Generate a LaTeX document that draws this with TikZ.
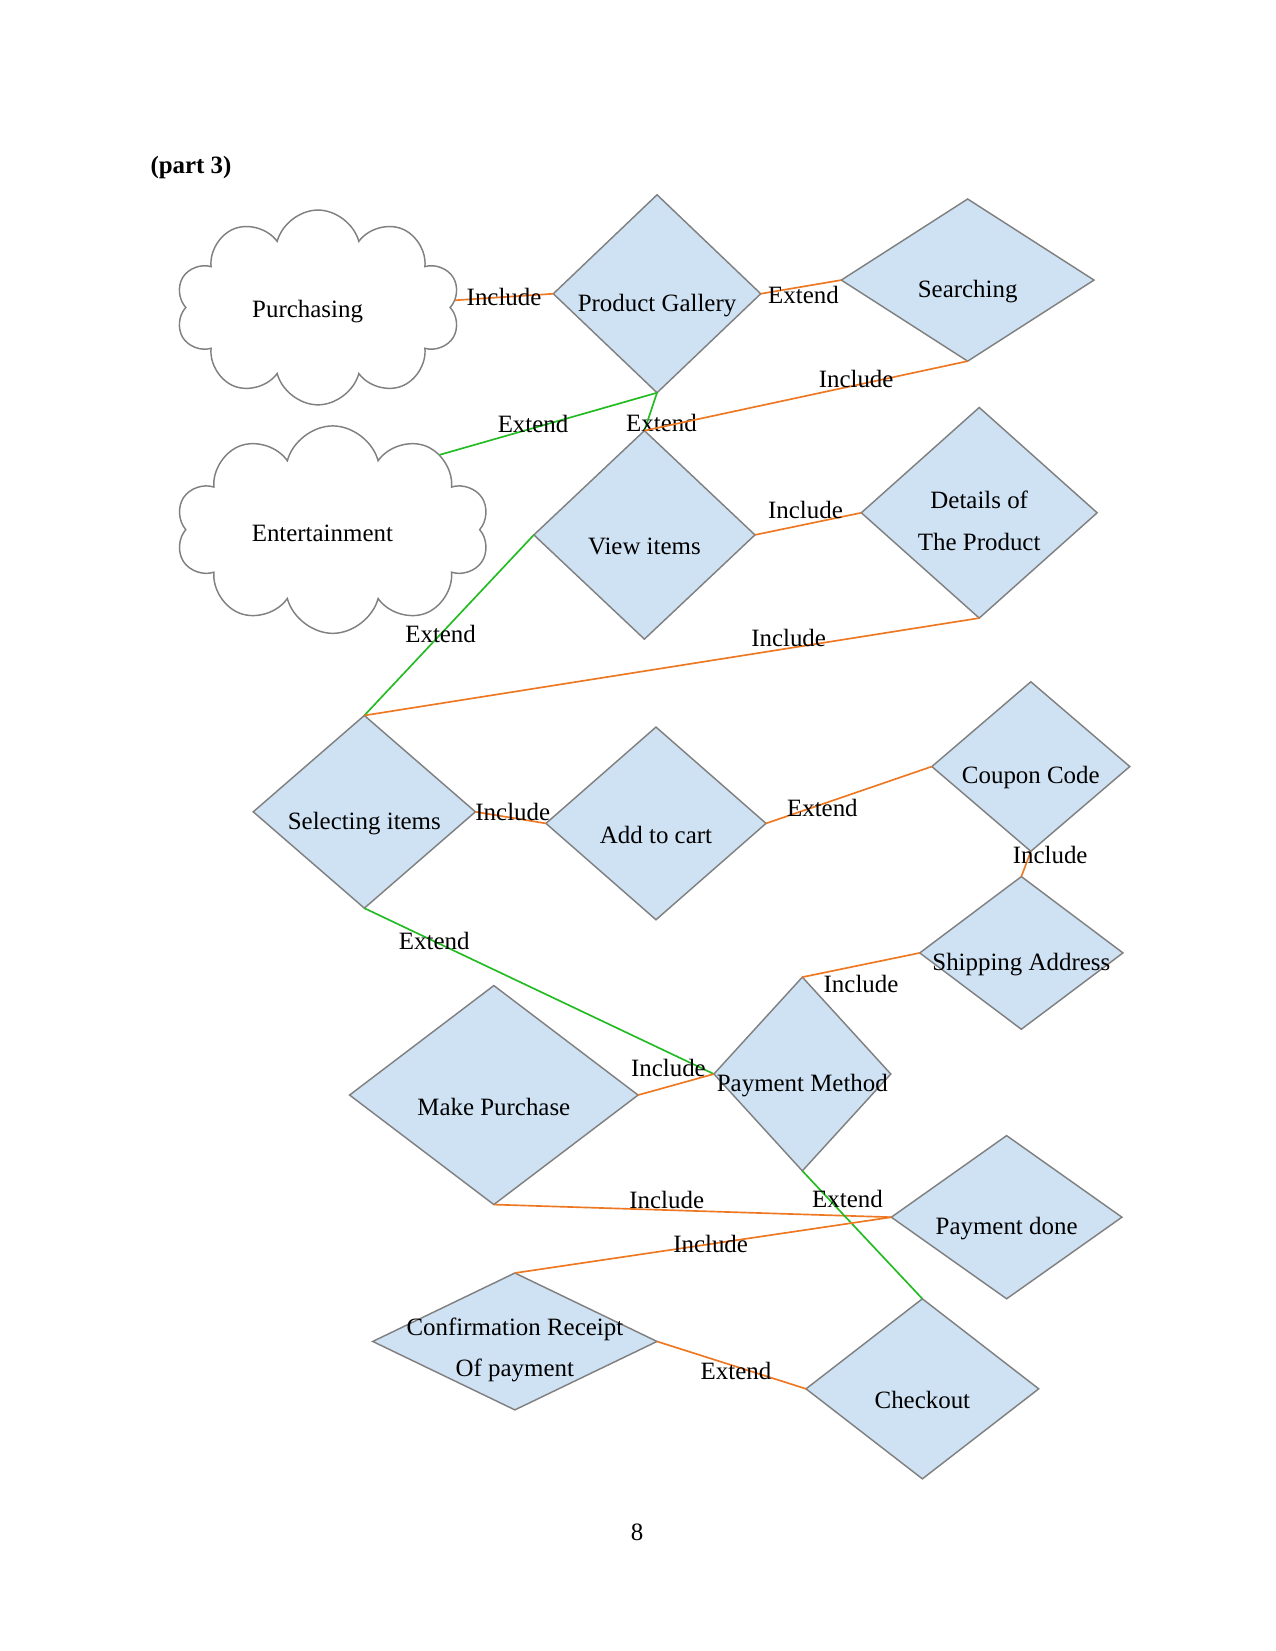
\documentclass[tikz,border=0pt]{standalone}
\usepackage{fontspec}
\setmainfont{Liberation Serif}
\usepackage{xcolor}
\usetikzlibrary{shapes.geometric, shapes.symbols}
\definecolor{ucfill}{HTML}{CFE2F3}
\definecolor{ucline}{HTML}{808080}
\definecolor{inccol}{HTML}{EE7722}
\definecolor{extcol}{HTML}{22BB22}
\newcommand{\px}{0.017828cm}

\begin{document}
\begin{tikzpicture}[x=\px, y=-\px,
  every node/.style={font=\fontsize{12}{14}\selectfont},
  uc/.style 2 args={diamond, draw=ucline, fill=ucfill, line width=0.7pt,
    inner sep=0pt, outer sep=0pt, minimum width=#1*\px, minimum height=#2*\px},
  cloudbox/.style 2 args={cloud, cloud puffs=10, draw=ucline, fill=white,
    line width=0.7pt, inner sep=0pt, outer sep=0pt,
    minimum width=#1*\px, minimum height=#2*\px},
  uctext/.style={yshift=-5.5pt},
  uctwo/.style={yshift=-4pt, align=center},
  incl/.style={inccol, line width=0.8pt},
  extd/.style={extcol, line width=0.8pt},
  lbl/.style={inner sep=0pt, text=black}]
  \useasboundingbox (0,0) rectangle (1211,1568);
  % heading and page number
  \node[anchor=west, font=\bfseries\fontsize{12}{14}\selectfont] (title) at (136,159) {(part 3)};
  \node (pnum) at (605,1455) {8};
  % actors (clouds)
  \node[cloudbox={270}{185}, label={[xshift=-5pt, yshift=-2pt]center:Purchasing}] (purch) at (302,292) {};
  \node[cloudbox={298}{197}, label={[xshift=-5pt, yshift=-2pt]center:Entertainment}] (ent) at (316,503) {};
  % use cases
  \node[uc={197}{188}, label={[uctext]center:Product Gallery}] (pg) at (624,279) {};
  \node[uc={240}{154}, label={[uctext]center:Searching}] (srch) at (919,266) {};
  \node[uc={210}{198}, label={[uctext]center:View items}] (view) at (612,508) {};
  \node[uc={224}{200}, label={[uctwo]center:{Details of\\[6pt]The Product}}] (det) at (930,487) {};
  \node[uc={211}{183}, label={[uctext]center:Selecting items}] (sel) at (346,771) {};
  \node[uc={209}{183}, label={[uctext]center:Add to cart}] (cart) at (623,782) {};
  \node[uc={188}{161}, label={[uctext]center:Coupon Code}] (coup) at (979,728) {};
  \node[uc={193}{145}, label={[uctext]center:Shipping Address}] (ship) at (970,905) {};
  \node[uc={274}{208}, label={[uctext]center:Make Purchase}] (mp) at (469,1040) {};
  \node[uc={168}{184}, label={[uctext]center:Payment Method}] (pm) at (762,1020) {};
  \node[uc={219}{155}, label={[uctext]center:Payment done}] (pd) at (956,1156) {};
  \node[uc={270}{130}, label={[uctwo]center:{Confirmation Receipt\\[6pt]Of payment}}] (conf) at (489,1274) {};
  \node[uc={221}{171}, label={[uctext]center:Checkout}] (chk) at (876,1319) {};
  % relations
  \draw[incl] (purch.3) -- (pg.west) node[lbl, pos=0.5] (e1) {Include};
  \draw[incl] (pg.east) -- (srch.west) node[lbl, pos=0.53, yshift=-4pt] (e2) {Extend};
  \draw[extd] (pg.south) -- (ent.35) node[lbl, pos=0.57, yshift=2pt] (e3) {Extend};
  \draw[extd] (pg.south) -- (view.north) node[lbl, pos=0.8, xshift=7pt] (e4) {Extend};
  \draw[incl] (view.north) -- (srch.south) node[lbl, pos=0.655, yshift=3pt] (e5) {Include};
  \draw[incl] (view.east) -- (det.west) node[lbl, pos=0.475, yshift=7pt] (e6) {Include};
  \draw[extd] (view.west) -- (sel.north) node[lbl, pos=0.55] (e7) {Extend};
  \draw[incl] (det.south) -- (sel.north) node[lbl, pos=0.31, yshift=5pt] (e8) {Include};
  \draw[incl] (sel.east) -- (cart.west) node[lbl, pos=0.53, yshift=3pt] (e9) {Include};
  \draw[incl] (cart.east) -- (coup.west) node[lbl, pos=0.34, yshift=-2pt] (e10) {Extend};
  \draw[incl] (coup.south) -- (ship.north) node[lbl, pos=0.15, xshift=10pt] (e11) {Include};
  \draw[incl] (ship.west) -- (pm.north) node[lbl, pos=0.5, yshift=-9pt] (e12) {Include};
  \draw[extd] (sel.south) -- (pm.west) node[lbl, pos=0.2] (e13) {Extend};
  \draw[incl] (mp.east) -- (pm.west) node[lbl, pos=0.4, yshift=9pt] (e14) {Include};
  \draw[incl] (mp.south) -- (pd.west) node[lbl, pos=0.435, yshift=5pt] (e15) {Include};
  \draw[extd] (pm.south) -- (chk.north) node[lbl, pos=0.22, xshift=9pt] (e16) {Extend};
  \draw[incl] (pd.west) -- (conf.north) node[lbl, pos=0.48] (e17) {Include};
  \draw[incl] (conf.east) -- (chk.west) node[lbl, pos=0.53, yshift=-2pt] (e18) {Extend};
\end{tikzpicture}
\end{document}
